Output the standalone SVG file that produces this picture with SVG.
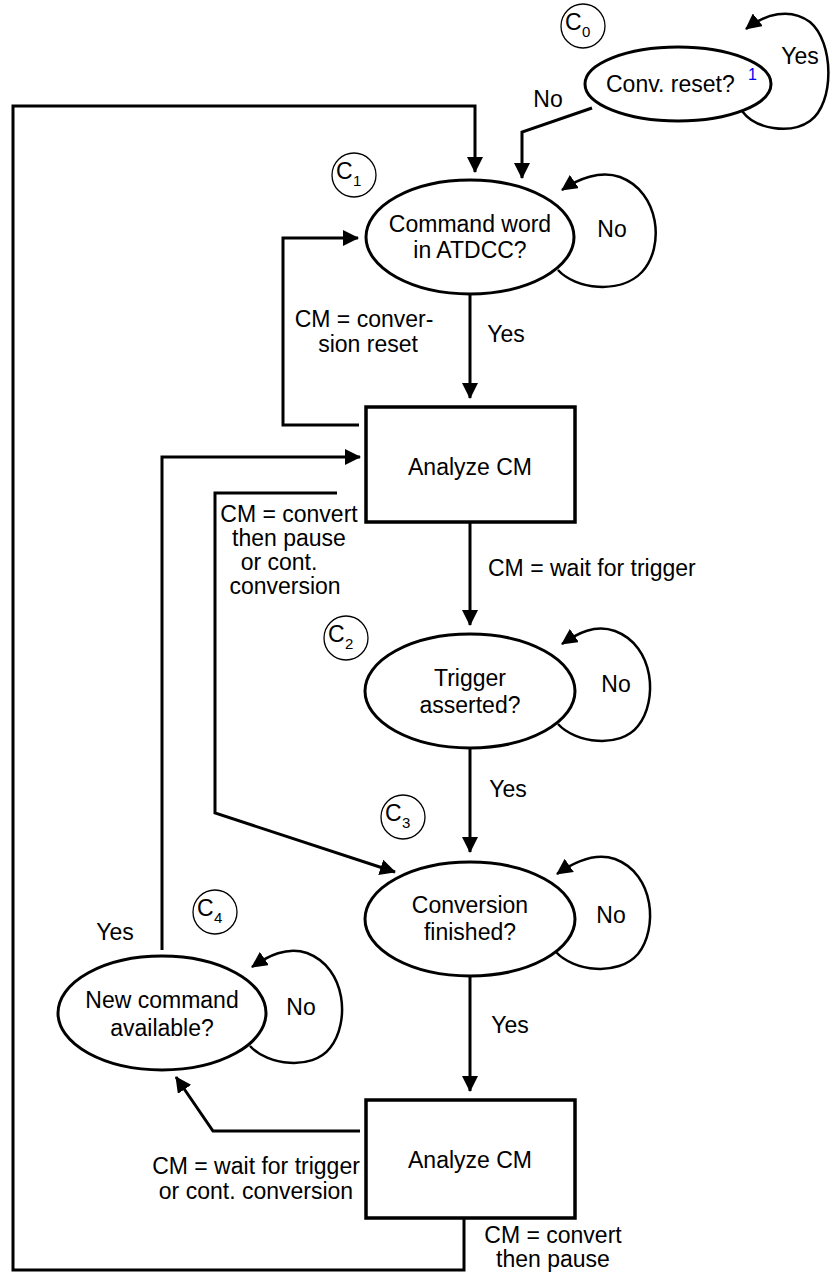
<svg xmlns="http://www.w3.org/2000/svg" width="830" height="1278" viewBox="0 0 830 1278">
<style>
text{font-family:"Liberation Sans",Arial,Helvetica,sans-serif;font-size:23px;fill:#000}
.m{text-anchor:middle}
.sub{font-size:15px}
.node{fill:#fff;stroke:#000;stroke-width:3}
.box{fill:#fff;stroke:#000;stroke-width:3.5}
.tag{fill:#fff;stroke:#000;stroke-width:1.3}
.c{fill:none;stroke:#000;stroke-width:3;stroke-linejoin:miter}
.loop{fill:none;stroke:#000;stroke-width:2.5}
</style>
<defs>
<marker id="ah" viewBox="0 0 16 16" refX="15" refY="8" markerWidth="16" markerHeight="16" markerUnits="userSpaceOnUse" orient="auto"><path d="M0,0 L16,8 L0,16 z" fill="#000"/></marker>
</defs>
<g id="connectors">
<path class="c" d="M464,1218 L464,1270 L13,1270 L13,106 L475,106 L475,172" marker-end="url(#ah)"/>
<path class="c" d="M592,108 L522,132 L522,178" marker-end="url(#ah)"/>
<path class="loop" d="M742,111 C755,129 790,135 810,121 C835,103 834,42 810,22 C790,7 765,14 746,29" marker-end="url(#ah)"/>
<path class="loop" d="M558,270 C575,289 620,295 642,272 C665,247 660,192 620,177 C600,170 578,179 562,190" marker-end="url(#ah)"/>
<path class="c" d="M470,294 L470,398" marker-end="url(#ah)"/>
<path class="c" d="M359,425 L283,425 L283,238 L358,238" marker-end="url(#ah)"/>
<path class="c" d="M470,522 L470,625" marker-end="url(#ah)"/>
<path class="c" d="M337,493 L215,493 L215,813 L395,872" marker-end="url(#ah)"/>
<path class="loop" d="M558,724 C575,743 620,749 638,726 C658,701 655,646 615,631 C595,624 578,633 562,644" marker-end="url(#ah)"/>
<path class="c" d="M470,748 L470,852" marker-end="url(#ah)"/>
<path class="loop" d="M556,952 C573,971 618,977 638,954 C658,929 655,874 615,859 C595,852 574,862 557,874" marker-end="url(#ah)"/>
<path class="c" d="M470,976 L470,1091" marker-end="url(#ah)"/>
<path class="c" d="M360,1131 L213,1131 L176,1077" marker-end="url(#ah)"/>
<path class="loop" d="M250,1046 C267,1065 312,1071 330,1048 C350,1023 347,968 307,953 C287,946 268,956 252,967" marker-end="url(#ah)"/>
<path class="c" d="M162,950 L162,457 L360,457" marker-end="url(#ah)"/>
</g>
<g id="labels">
<text class="m" x="800" y="64">Yes</text>
<text class="m" x="548" y="107">No</text>
<text class="m" x="612" y="237">No</text>
<text class="m" x="506" y="342">Yes</text>
<text class="m" x="364" y="327">CM = conver-</text>
<text class="m" x="368" y="352">sion reset</text>
<text x="488" y="576">CM = wait for trigger</text>
<text class="m" x="289" y="522">CM = convert</text>
<text class="m" x="289" y="546">then pause</text>
<text class="m" x="279" y="570">or cont.</text>
<text class="m" x="285" y="594">conversion</text>
<text class="m" x="616" y="692">No</text>
<text class="m" x="508" y="797">Yes</text>
<text class="m" x="611" y="923">No</text>
<text class="m" x="510" y="1033">Yes</text>
<text class="m" x="115" y="940">Yes</text>
<text class="m" x="301" y="1015">No</text>
<text class="m" x="256" y="1174">CM = wait for trigger</text>
<text class="m" x="256" y="1199">or cont. conversion</text>
<text class="m" x="553" y="1243">CM = convert</text>
<text class="m" x="553" y="1267">then pause</text>
</g>
<g id="C0"><circle class="tag" cx="583" cy="26" r="22"/><text x="565" y="30">C</text><text class="sub" x="582" y="37">0</text></g>
<g id="conv-reset"><ellipse class="node" cx="678" cy="84" rx="93" ry="37"/><text x="606" y="92">Conv. reset?</text><text x="748" y="80" style="font-size:16px;fill:#0000ee">1</text></g>
<g id="C1"><circle class="tag" cx="354" cy="175" r="22"/><text x="336" y="179">C</text><text class="sub" x="353" y="186">1</text></g>
<g id="command-word"><ellipse class="node" cx="470" cy="237" rx="104" ry="57"/><text class="m" x="470" y="232">Command word</text><text class="m" x="470" y="258">in ATDCC?</text></g>
<g id="analyze-1"><rect class="box" x="366" y="407" width="209" height="115"/><text class="m" x="470" y="475">Analyze CM</text></g>
<g id="C2"><circle class="tag" cx="346" cy="638" r="22"/><text x="328" y="642">C</text><text class="sub" x="345" y="649">2</text></g>
<g id="trigger"><ellipse class="node" cx="470" cy="691" rx="105" ry="57"/><text class="m" x="470" y="686">Trigger</text><text class="m" x="470" y="713">asserted?</text></g>
<g id="C3"><circle class="tag" cx="403" cy="817" r="22"/><text x="385" y="821">C</text><text class="sub" x="402" y="828">3</text></g>
<g id="conv-finished"><ellipse class="node" cx="470" cy="919" rx="105" ry="57"/><text class="m" x="470" y="913">Conversion</text><text class="m" x="470" y="940">finished?</text></g>
<g id="C4"><circle class="tag" cx="215" cy="912" r="22"/><text x="197" y="916">C</text><text class="sub" x="214" y="923">4</text></g>
<g id="new-command"><ellipse class="node" cx="162" cy="1013" rx="104" ry="57"/><text class="m" x="162" y="1008">New command</text><text class="m" x="162" y="1036">available?</text></g>
<g id="analyze-2"><rect class="box" x="366" y="1100" width="209" height="118"/><text class="m" x="470" y="1168">Analyze CM</text></g>
</svg>
